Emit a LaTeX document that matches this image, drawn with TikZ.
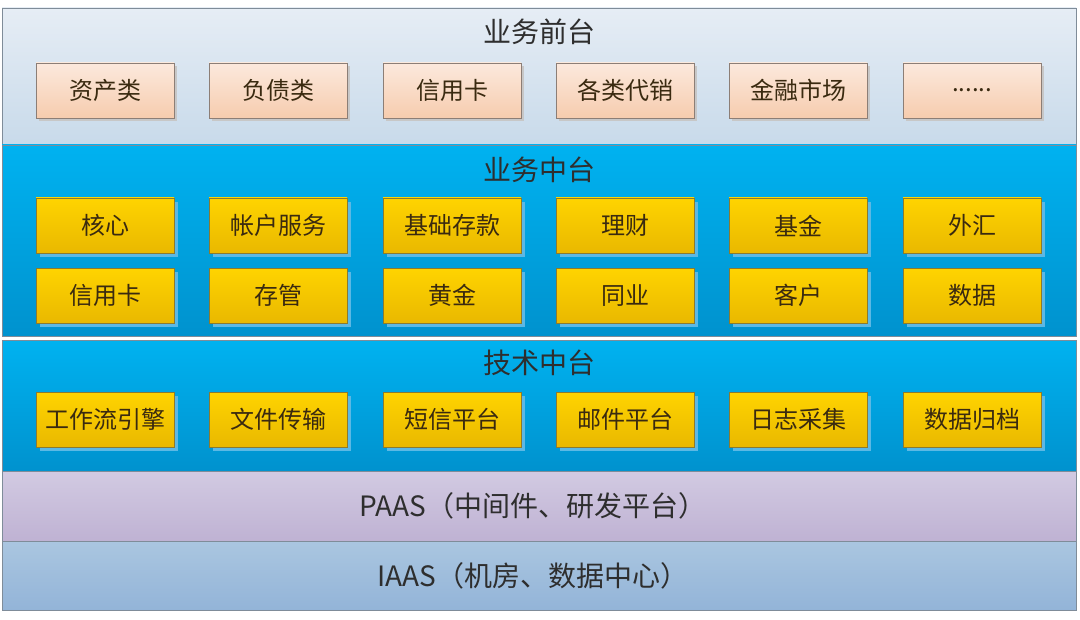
\documentclass[tikz,border=0pt]{standalone}
\usepackage{fontspec}
\setmainfont{Noto Sans CJK SC}
\usetikzlibrary{shadows}
\definecolor{frontT}{HTML}{E6EDF5}
\definecolor{frontB}{HTML}{C8DAEA}
\definecolor{blueT}{HTML}{00B2F0}
\definecolor{blueB}{HTML}{0092CE}
\definecolor{paasT}{HTML}{D2CAE2}
\definecolor{paasB}{HTML}{BFB2D3}
\definecolor{iaasT}{HTML}{AAC6E0}
\definecolor{iaasB}{HTML}{93B4D8}
\definecolor{peachT}{HTML}{FCE9DD}
\definecolor{peachB}{HTML}{F6CCAE}
\definecolor{yelT}{HTML}{FFD400}
\definecolor{yelB}{HTML}{E9B800}
\definecolor{yelEdge}{HTML}{8A7A30}
\definecolor{peachEdge}{HTML}{8C7E76}
\definecolor{layerEdge}{HTML}{7F8C99}
\definecolor{txt}{HTML}{2E2E2E}
\definecolor{boxtxt}{HTML}{3A2A10}
\definecolor{blueshadow}{HTML}{5CB8E4}
\begin{document}
\begin{tikzpicture}[x=0.75pt,y=-0.75pt,
  layer/.style={draw=layerEdge,line width=0.6pt},
  title/.style={font=\fontsize{21}{24}\selectfont,text=txt},
  basebox/.style={minimum width=103.5pt,minimum height=41.25pt,inner sep=0pt,
    font=\fontsize{18}{21}\selectfont,text=boxtxt,line width=0.6pt},
  peach/.style={basebox,draw=peachEdge,top color=peachT,bottom color=peachB,
    general shadow={fill=black!22,shadow xshift=2.5pt,shadow yshift=-2.5pt}},
  yel/.style={basebox,draw=yelEdge,top color=yelT,bottom color=yelB,
    general shadow={fill=blueshadow,shadow xshift=3pt,shadow yshift=-3pt}}]
\useasboundingbox (0,0) rectangle (1080,620);
\fill[white] (0,0) rectangle (1080,620);
% layers
\path[layer,top color=frontT,bottom color=frontB] (2,8) rectangle (1076,145);
\path[layer,top color=blueT,bottom color=blueB] (2,145) rectangle (1076,336);
\path[layer,top color=blueT,bottom color=blueB] (2,340) rectangle (1076,471);
\path[layer,top color=paasT,bottom color=paasB] (2,471) rectangle (1076,541);
\path[layer,top color=iaasT,bottom color=iaasB] (2,541) rectangle (1076,610);
% titles
\node[title] (t1) at (539,32) {业务前台};
\node[title] (t2) at (539,170) {业务中台};
\node[title] (t3) at (539,363) {技术中台};
\node[title] (t4) at (533,506) {PAAS（中间件、研发平台）};
\node[title] (t5) at (533,576) {IAAS（机房、数据中心）};
% front row
\node[peach] (f1) at (105,90.5) {资产类};
\node[peach] (f2) at (278,90.5) {负债类};
\node[peach] (f3) at (452,90.5) {信用卡};
\node[peach] (f4) at (625,90.5) {各类代销};
\node[peach] (f5) at (798,90.5) {金融市场};
\node[peach] (f6) at (972,90.5) {......};
% middle rows
\node[yel] (m1) at (105,225.5) {核心};
\node[yel] (m2) at (278,225.5) {帐户服务};
\node[yel] (m3) at (452,225.5) {基础存款};
\node[yel] (m4) at (625,225.5) {理财};
\node[yel] (m5) at (798,225.5) {基金};
\node[yel] (m6) at (972,225.5) {外汇};
\node[yel] (n1) at (105,295.5) {信用卡};
\node[yel] (n2) at (278,295.5) {存管};
\node[yel] (n3) at (452,295.5) {黄金};
\node[yel] (n4) at (625,295.5) {同业};
\node[yel] (n5) at (798,295.5) {客户};
\node[yel] (n6) at (972,295.5) {数据};
% tech row
\node[yel] (k1) at (105,419.5) {工作流引擎};
\node[yel] (k2) at (278,419.5) {文件传输};
\node[yel] (k3) at (452,419.5) {短信平台};
\node[yel] (k4) at (625,419.5) {邮件平台};
\node[yel] (k5) at (798,419.5) {日志采集};
\node[yel] (k6) at (972,419.5) {数据归档};
\end{tikzpicture}
\end{document}
